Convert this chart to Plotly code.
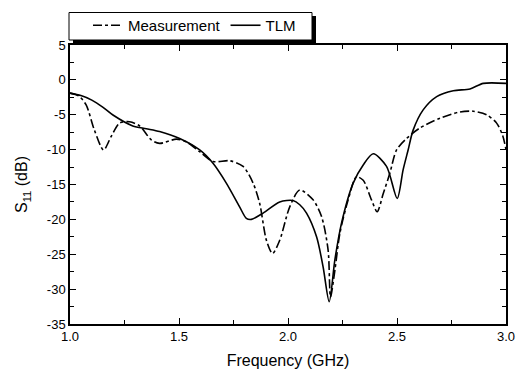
import plotly.graph_objects as go

# ---- data ----
tlm_f = [1.0, 1.05, 1.10, 1.15, 1.197, 1.288, 1.35, 1.411, 1.503, 1.595, 1.656, 1.717, 1.778,
         1.809, 1.832, 1.886, 1.962, 2.023, 2.054, 2.085, 2.131, 2.161, 2.189, 2.215, 2.245,
         2.299, 2.345, 2.391, 2.452, 2.501, 2.528, 2.551, 2.574, 2.620, 2.682, 2.758, 2.835,
         2.896, 3.0]
tlm_db = [-1.9, -2.25, -2.9, -3.9, -5.04, -6.6, -7.0, -7.4, -8.4, -10.05, -11.96, -14.8, -18.2,
          -19.85, -20.0, -19.1, -17.5, -17.3, -17.9, -19.1, -22.5, -26.8, -31.8, -25.8, -20.6,
          -14.8, -12.2, -10.6, -12.4, -17.0, -12.9, -10.05, -7.2, -4.3, -2.4, -1.55, -1.3,
          -0.5, -0.5]

meas_f = [1.0, 1.04, 1.074, 1.112, 1.154, 1.189, 1.227, 1.273, 1.319, 1.373, 1.411, 1.488,
          1.534, 1.595, 1.656, 1.733, 1.794, 1.840, 1.870, 1.901, 1.929, 1.962, 2.008, 2.054,
          2.115, 2.154, 2.184, 2.195, 2.215, 2.238, 2.276, 2.314, 2.345, 2.383, 2.409, 2.437,
          2.467, 2.498, 2.544, 2.605, 2.697, 2.789, 2.850, 2.911, 2.957, 2.985, 3.0]
meas_db = [-1.9, -2.3, -3.6, -7.2, -10.05, -8.1, -6.2, -6.0, -6.6, -8.6, -9.1, -8.5,
           -8.9, -10.3, -11.7, -11.6, -12.4, -14.8, -17.7, -23.0, -24.9, -23.0, -18.2, -15.8,
           -17.2, -19.6, -24.4, -31.1, -27.3, -22.0, -17.2, -13.9, -14.4, -17.2, -18.9, -16.3,
           -13.4, -10.05, -8.4, -6.9, -5.5, -4.6, -4.5, -5.0, -6.2, -8.0, -10.0]

x_ticks = [1.0, 1.5, 2.0, 2.5, 3.0]
x_ticktext = ["1.0", "1.5", "2.0", "2.5", "3.0"]
y_ticks = [5, 0, -5, -10, -15, -20, -25, -30, -35]
y_ticktext = ["5", "0", "-5", "-10", "-15", "-20", "-25", "-30", "-35"]

W, H = 516, 369
L, R, T, B = 70, 10, 45, 45
pw, ph = W - L - R, H - T - B


def px(xpix):
    return (xpix - L) / pw


def py(ypix):
    return (H - B - ypix) / ph


FONT = "Liberation Sans, Arial, sans-serif"

fig = go.Figure()
fig.add_trace(go.Scatter(x=meas_f, y=meas_db, mode="lines", name="Measurement",
                         line=dict(color="black", width=1.6, dash="dashdot",
                                   shape="spline", smoothing=0.8)))
fig.add_trace(go.Scatter(x=tlm_f, y=tlm_db, mode="lines", name="TLM",
                         line=dict(color="black", width=1.6, shape="spline", smoothing=0.8)))

axis_common = dict(showgrid=False, zeroline=False, showline=True, linecolor="black",
                   linewidth=1.5, mirror="allticks", ticks="inside", ticklen=6,
                   tickwidth=1.2, tickcolor="black", automargin=False,
                   tickfont=dict(family=FONT, size=13, color="black"))

fig.update_xaxes(range=[1.0, 3.0], tickvals=x_ticks, ticktext=x_ticktext,
                 minor=dict(dtick=0.25, tick0=1.0, ticks="inside", ticklen=4,
                            tickcolor="black", tickwidth=1.2),
                 title=dict(text="Frequency (GHz)",
                            font=dict(family=FONT, size=16, color="black")),
                 **axis_common)
fig.update_yaxes(range=[-35, 5], tickvals=y_ticks, ticktext=y_ticktext,
                 minor=dict(dtick=2.5, tick0=0, ticks="inside", ticklen=4,
                            tickcolor="black", tickwidth=1.2),
                 title=dict(text="S<sub>11</sub> (dB)",
                            font=dict(family=FONT, size=16, color="black")),
                 **axis_common)

# legend box with drop shadow
fig.add_shape(type="rect", xref="paper", yref="paper",
              x0=px(73), x1=px(316), y0=py(44), y1=py(16),
              fillcolor="black", line=dict(width=0))
fig.add_shape(type="rect", xref="paper", yref="paper",
              x0=px(69), x1=px(312), y0=py(40), y1=py(12.5),
              fillcolor="white", line=dict(color="black", width=1))

fig.update_layout(
    width=W, height=H,
    margin=dict(l=L, r=R, t=T, b=B, autoexpand=False),
    paper_bgcolor="white", plot_bgcolor="white",
    showlegend=True,
    legend=dict(orientation="h", x=px(88), y=py(9), xanchor="left", yanchor="top",
                bgcolor="rgba(0,0,0,0)", borderwidth=0,
                font=dict(family=FONT, size=15, color="black"),
                itemwidth=30, tracegroupgap=0),
)

# remove the browser's default 8px body margin so the figure sits at the page origin
fig.write_html("out.html", config={"displayModeBar": False},
               post_script="document.body.style.margin='0';")
